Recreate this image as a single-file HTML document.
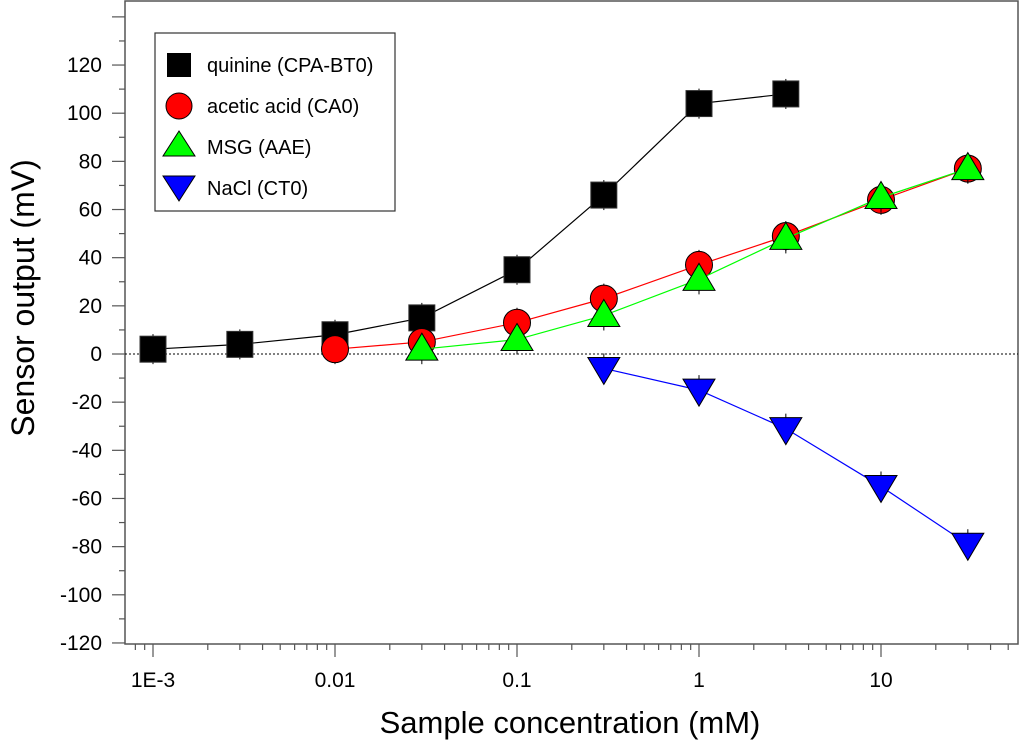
<!DOCTYPE html>
<html><head><meta charset="utf-8"><style>
html,body{margin:0;padding:0;background:#fff}
svg{display:block;font-family:"Liberation Sans",Arial,sans-serif}
</style></head><body>
<svg id="chart" width="1024" height="747">
<g id="axes"></g><g id="series"></g>
<g>
<rect x="155" y="33" width="240" height="178" fill="#fff" stroke="#333" stroke-width="1.2"/>
<rect x="167" y="53" width="24" height="24" fill="#000"/>
<text x="207" y="72" font-size="20">quinine (CPA-BT0)</text>
<circle cx="179" cy="106" r="13" fill="#f00" stroke="#000"/>
<text x="207" y="113" font-size="20">acetic acid (CA0)</text>
<polygon points="179,131 195,156 163,156" fill="#0f0" stroke="#000"/>
<text x="207" y="154" font-size="20">MSG (AAE)</text>
<polygon points="163,176 195,176 179,201" fill="#00f" stroke="#000"/>
<text x="207" y="195" font-size="20">NaCl (CT0)</text>
</g>
<text x="570" y="733" font-size="31" text-anchor="middle">Sample concentration (mM)</text>
<text transform="translate(34,298) rotate(-90)" font-size="32" text-anchor="middle">Sensor output (mV)</text>
</svg>
<script>
const xTicks=[0.001,0.01,0.1,1,10];
const xTickLabels=["1E-3","0.01","0.1","1","10"];
const yTicks=[-120,-100,-80,-60,-40,-20,0,20,40,60,80,100,120];
const quinineX=[0.001,0.003,0.01,0.03,0.1,0.3,1,3];
const quinineY=[2,4,8,15,35,66,104,108];
const aceticX=[0.01,0.03,0.1,0.3,1,3,10,30];
const aceticY=[2,5,13,23,37,49,64,77];
const msgX=[0.03,0.1,0.3,1,3,10,30];
const msgY=[2,6,16,31,48,65,77];
const naclX=[0.3,1,3,10,30];
const naclY=[-6,-15,-31,-55,-79];
const L=125,R=1018,T=1,B=644;
const xs=v=>153+(Math.log10(v)+3)*182;
const ys=v=>354-v*2.408;
const NS="http://www.w3.org/2000/svg";
function mk(tag,attrs,parent){const e=document.createElementNS(NS,tag);for(const k in attrs)e.setAttribute(k,attrs[k]);parent.appendChild(e);return e;}
const ax=document.getElementById('axes'),sg=document.getElementById('series');
const frame=mk('rect',{x:L,y:T,width:R-L,height:B-T,fill:'none',stroke:'#555','stroke-width':1.5},ax);


const zl=mk('line',{x1:L,x2:R,y1:ys(0),y2:ys(0),stroke:'#000','stroke-dasharray':'2,2','stroke-width':1},ax);


for(let d=-4;d<=1;d++)for(let m=1;m<10;m++){const v=m*Math.pow(10,d);const x=xs(v);if(x<L||x>R)continue;
 mk('line',{x1:x,x2:x,y1:B,y2:B+(m==1?13:6),stroke:'#555','stroke-width':1.2},ax);}
xTicks.forEach((v,i)=>{const t=mk('text',{x:xs(v),y:687,'font-size':21,'text-anchor':'middle'},ax);t.textContent=xTickLabels[i];
 
 });
for(let v=-120;v<=140;v+=10){const y=ys(v);mk('line',{x1:L,x2:L-(v%20==0?13:6),y1:y,y2:y,stroke:'#555','stroke-width':1.2},ax);}
yTicks.forEach(v=>{const t=mk('text',{x:L-23,y:ys(v)+7,'font-size':21,'text-anchor':'end'},ax);t.textContent=v;
 
 });
function series(name,X,Y,color,shape){
 const g=mk('g',{},sg);
 
 
 mk('polyline',{points:X.map((x,i)=>xs(x)+','+ys(Y[i])).join(' '),fill:'none',stroke:color,'stroke-width':1.2},g);
 X.forEach((xv,i)=>{const x=xs(xv),y=ys(Y[i]);let e;
  mk('line',{x1:x,x2:x,y1:y-15,y2:y+15,stroke:'#000','stroke-width':1},g);
  if(shape=='sq')e=mk('rect',{x:x-13,y:y-13,width:26,height:26,fill:'#000',stroke:'#333'},g);
  else if(shape=='c')e=mk('circle',{cx:x,cy:y,r:13.5,fill:'#f00',stroke:'#000'},g);
  else if(shape=='up')e=mk('polygon',{points:`${x},${y-16} ${x+16},${y+11} ${x-16},${y+11}`,fill:'#0f0',stroke:'#000'},g);
  else e=mk('polygon',{points:`${x-16},${y-11} ${x+16},${y-11} ${x},${y+16}`,fill:'#00f',stroke:'#000'},g);
  
  });
}
series('quinine',quinineX,quinineY,'#000','sq');
series('acetic',aceticX,aceticY,'#f00','c');
series('msg',msgX,msgY,'#0f0','up');
series('nacl',naclX,naclY,'#00f','dn');
</script>
</body></html>
